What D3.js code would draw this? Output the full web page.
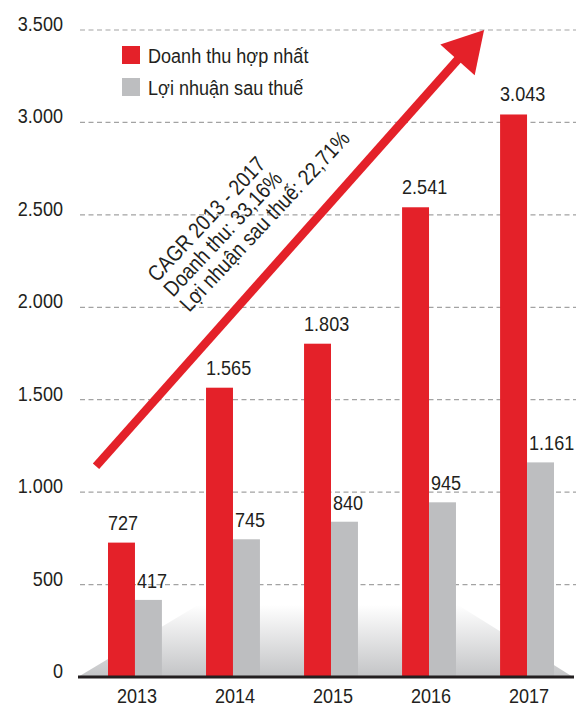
<!DOCTYPE html>
<html lang="vi">

<head>
  <meta charset="UTF-8">
  <title>Doanh thu - Lợi nhuận 2013-2017</title>
  <style>
    body {
      margin: 0;
      background: #fff;
    }

    svg {
      display: block;
      font-family: "Liberation Sans", Arial, sans-serif;
      fill: #231f20;
    }

    .grid line {
      stroke: #a3a3a3;
      stroke-width: 1.2;
      stroke-dasharray: 5 3.5;
    }
  </style>
</head>

<body>
  <div id="chart"></div>
</body>
<script src="https://d3js.org/d3.v7.min.js"></script>

<script>
  // du lieu doc tu hinh
  const years = ['2013', '2014', '2015', '2016', '2017']
  const doanhThu = [727, 1565, 1803, 2541, 3043]
  const loiNhuan = [417, 745, 840, 945, 1161]
  const yTicks = [0, 500, 1000, 1500, 2000, 2500, 3000, 3500]
  const seriesNames = ['Doanh thu hợp nhất', 'Lợi nhuận sau thuế']
  const cagrLines = ['CAGR 2013 - 2017', 'Doanh thu: 33,16%', 'Lợi nhuận sau thuế: 22,71%']

  const W = 576, H = 708
  const red = '#e42129', gray = '#bdbec0'
  const fs = 21, sx = 0.86   // chu hep (condensed) bang scaleX
  const fmt = v => d3.format(',')(v).replace(/,/g, '.')
  const at = (px, py) => `translate(${px},${py}) scale(${sx},1)`

  const svg = d3.select('#chart').append('svg')
    .attr('width', W)
    .attr('height', H)

  const x = d3.scaleBand()
    .domain(years)
    .range([59, 603])
    .paddingInner(0.45)
    .paddingOuter(0.5)

  const y = d3.scaleLinear()
    .domain([0, 3500])
    .range([677, 30])

  const sub = d3.scaleBand()
    .domain([0, 1])
    .range([0, x.bandwidth()])

  // nen "san" phia duoi
  const grad = svg.append('defs').append('linearGradient')
    .attr('id', 'floor')
    .attr('x1', 0).attr('y1', 0).attr('x2', 0).attr('y2', 1)
  grad.append('stop').attr('offset', '0%').attr('stop-color', '#ffffff')
  grad.append('stop').attr('offset', '100%').attr('stop-color', '#c3c4c6')

  const fy = y(390)
  svg.append('polygon')
    .attr('points', [[78, y(0)], [198, fy], [458, fy], [573, y(0)]].join(' '))
    .attr('fill', 'url(#floor)')

  // luoi ngang
  svg.append('g')
    .attr('class', 'grid')
    .selectAll('line')
    .data(yTicks.filter(d => d > 0))
    .enter()
    .append('line')
    .attr('x1', 80)
    .attr('x2', W)
    .attr('y1', d => y(d))
    .attr('y2', d => y(d))

  // nhan truc y
  svg.append('g')
    .selectAll('text')
    .data(yTicks)
    .enter()
    .append('text')
    .attr('transform', d => at(63, y(d) + 1))
    .attr('text-anchor', 'end')
    .attr('font-size', fs)
    .text(d => fmt(d))

  // cot
  const groups = svg.append('g')
    .selectAll('g')
    .data(years)
    .enter()
    .append('g')
    .attr('transform', d => `translate(${x(d)},0)`)

  groups.append('rect')
    .attr('x', sub(0))
    .attr('width', sub.bandwidth())
    .attr('y', (d, i) => y(doanhThu[i]))
    .attr('height', (d, i) => y(0) - y(doanhThu[i]))
    .attr('fill', red)

  groups.append('rect')
    .attr('x', sub(1))
    .attr('width', sub.bandwidth())
    .attr('y', (d, i) => y(loiNhuan[i]))
    .attr('height', (d, i) => y(0) - y(loiNhuan[i]))
    .attr('fill', gray)

  groups.append('text')
    .attr('transform', (d, i) => at(sub(0), y(doanhThu[i]) - 13))
    .attr('font-size', fs)
    .text((d, i) => fmt(doanhThu[i]))

  groups.append('text')
    .attr('transform', (d, i) => at(sub(1) + 2, y(loiNhuan[i]) - 12))
    .attr('font-size', fs)
    .text((d, i) => fmt(loiNhuan[i]))

  // duong day
  svg.append('line')
    .attr('x1', 78)
    .attr('x2', 574)
    .attr('y1', y(0))
    .attr('y2', y(0))
    .attr('stroke', '#231f20')
    .attr('stroke-width', 3)

  // nhan nam
  svg.append('g')
    .selectAll('text')
    .data(years)
    .enter()
    .append('text')
    .attr('transform', d => at(x(d) + x.bandwidth() / 2 + 2, 703))
    .attr('text-anchor', 'middle')
    .attr('font-size', fs)
    .text(d => d)

  // chu thich
  const legend = svg.append('g')
    .attr('transform', 'translate(122,46)')
  const li = legend.selectAll('g')
    .data(seriesNames)
    .enter()
    .append('g')
    .attr('transform', (d, i) => `translate(0,${i * 32})`)
  li.append('rect')
    .attr('width', 18)
    .attr('height', 18)
    .attr('fill', (d, i) => i === 0 ? red : gray)
  li.append('text')
    .attr('transform', at(26, 17))
    .attr('font-size', fs)
    .text(d => d)

  // mui ten CAGR
  const start = [x('2013') - 12, y(1140)]
  const tip = [x('2017') - 16, y(3500)]
  const ang = Math.atan2(tip[1] - start[1], tip[0] - start[0])
  const headLen = 40, headHalf = 23
  const ux = Math.cos(ang), uy = Math.sin(ang)
  const base = [tip[0] - ux * headLen, tip[1] - uy * headLen]

  svg.append('line')
    .attr('x1', start[0]).attr('y1', start[1])
    .attr('x2', base[0] + ux * 4).attr('y2', base[1] + uy * 4)
    .attr('stroke', red)
    .attr('stroke-width', 8.5)

  svg.append('polygon')
    .attr('points', [
      tip,
      [base[0] - uy * headHalf, base[1] + ux * headHalf],
      [base[0] + uy * headHalf, base[1] - ux * headHalf]
    ].join(' '))
    .attr('fill', red)

  // chu xoay
  const note = svg.append('text')
    .attr('transform', `translate(157,283) rotate(-47) scale(${sx},1)`)
    .attr('font-size', 22)
  note.selectAll('tspan')
    .data(cagrLines)
    .enter()
    .append('tspan')
    .attr('x', 0)
    .attr('dy', (d, i) => i === 0 ? 0 : 22)
    .text(d => d)
</script>

</html>
